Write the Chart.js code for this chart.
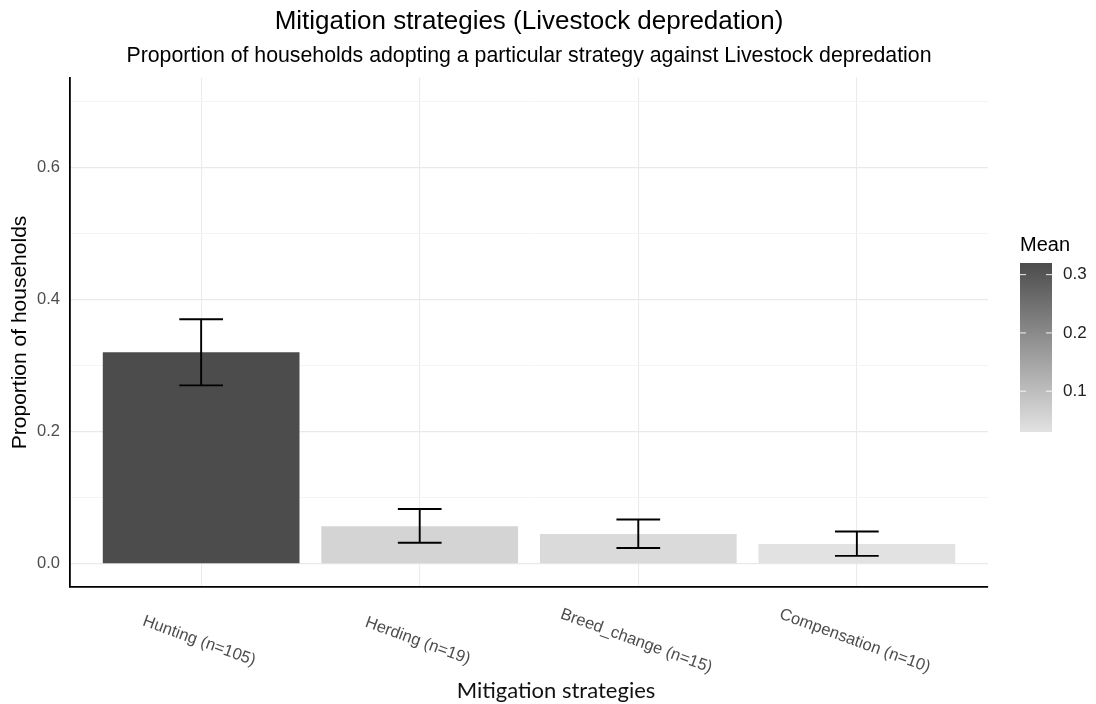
<!DOCTYPE html>
<html>
<head>
<meta charset="utf-8">
<script src="https://cdn.jsdelivr.net/npm/chart.js@4.4.1/dist/chart.umd.min.js"></script>
<style>
  html, body { margin: 0; padding: 0; background: #ffffff; }
  #wrap { width: 1096px; height: 704px; position: relative; }
</style>
</head>
<body>
<div id="wrap"><canvas id="chart"></canvas></div>
<script>
// Mitigation strategies and the share of households using each one
const strategies   = ['Hunting (n=105)', 'Herding (n=19)', 'Breed_change (n=15)', 'Compensation (n=10)'];
const meanValues   = [0.32, 0.057, 0.045, 0.030];
const lowerValues  = [0.27, 0.032, 0.024, 0.012];
const upperValues  = [0.37, 0.083, 0.067, 0.049];

// Axis ticks and legend ticks
const yMajorTicks  = [0, 0.2, 0.4, 0.6];
const yMinorTicks  = [0.1, 0.3, 0.5, 0.7];
const legendTicks  = [0.1, 0.2, 0.3];

const SANS = '"Liberation Sans", Arial, sans-serif';
const lowShade  = [226, 226, 226];
const highShade = [76, 76, 76];
const meanLo = Math.min(...meanValues);
const meanHi = Math.max(...meanValues);

function shade(v) {
  const t = (v - meanLo) / (meanHi - meanLo);
  const c = lowShade.map((l, k) => Math.round(l + (highShade[k] - l) * t));
  return `rgb(${c[0]},${c[1]},${c[2]})`;
}

const overlay = {
  id: 'overlay',
  afterDatasetsDraw(chart) {
    const { ctx, scales: { x, y } } = chart;
    // error bars (width 0.2 of a category)
    ctx.save();
    ctx.strokeStyle = '#000000';
    ctx.lineWidth = 1.9;
    strategies.forEach((_, i) => {
      const cx = x.getPixelForValue(i + 1);
      const l = x.getPixelForValue(i + 1 - 0.1);
      const r = x.getPixelForValue(i + 1 + 0.1);
      const yt = y.getPixelForValue(upperValues[i]);
      const yb = y.getPixelForValue(lowerValues[i]);
      ctx.beginPath();
      ctx.moveTo(l, yt); ctx.lineTo(r, yt);
      ctx.moveTo(cx, yt); ctx.lineTo(cx, yb);
      ctx.moveTo(l, yb); ctx.lineTo(r, yb);
      ctx.stroke();
    });
    ctx.restore();
  },
  afterDraw(chart) {
    const { ctx, scales: { x } } = chart;
    // slanted category labels
    ctx.save();
    ctx.fillStyle = '#4d4d4d';
    ctx.font = `16.5px ${SANS}`;
    ctx.textAlign = 'center';
    ctx.textBaseline = 'middle';
    strategies.forEach((label, i) => {
      ctx.save();
      ctx.translate(x.getPixelForValue(i + 1) - 2, 641);
      ctx.rotate(20 * Math.PI / 180);
      ctx.fillText(label, 0, 0);
      ctx.restore();
    });
    ctx.restore();

    // x axis title
    ctx.save();
    ctx.fillStyle = '#111111';
    ctx.font = '22px Lato, "Open Sans", sans-serif';
    ctx.textAlign = 'center';
    ctx.textBaseline = 'alphabetic';
    ctx.fillText('Mitigation strategies', 556, 698);
    ctx.restore();

    // colour bar legend
    const barL = 1020, barR = 1052, barT = 263, barB = 432;
    ctx.save();
    ctx.fillStyle = '#000000';
    ctx.font = `20px ${SANS}`;
    ctx.textAlign = 'left';
    ctx.textBaseline = 'alphabetic';
    ctx.fillText('Mean', barL, 251);
    const grad = ctx.createLinearGradient(0, barT, 0, barB);
    grad.addColorStop(0, shade(meanHi));
    grad.addColorStop(1, shade(meanLo));
    ctx.fillStyle = grad;
    ctx.fillRect(barL, barT, barR - barL, barB - barT);
    ctx.font = `17px ${SANS}`;
    ctx.textBaseline = 'middle';
    legendTicks.forEach(v => {
      const ty = barT + (meanHi - v) / (meanHi - meanLo) * (barB - barT);
      ctx.strokeStyle = 'rgba(255,255,255,0.9)';
      ctx.lineWidth = 1;
      ctx.beginPath();
      ctx.moveTo(barL, ty); ctx.lineTo(barL + 6, ty);
      ctx.moveTo(barR - 6, ty); ctx.lineTo(barR, ty);
      ctx.stroke();
      ctx.fillStyle = '#222222';
      ctx.fillText(v.toFixed(1), 1063, ty);
    });
    ctx.restore();
  }
};

new Chart(document.getElementById('chart'), {
  type: 'bar',
  data: {
    datasets: [{
      data: meanValues.map((v, i) => ({ x: i + 1, y: v })),
      backgroundColor: meanValues.map(shade),
      borderWidth: 0,
      barPercentage: 1.0,
      categoryPercentage: 0.9
    }]
  },
  options: {
    responsive: true,
    maintainAspectRatio: false,
    animation: false,
    devicePixelRatio: 1,
    layout: { padding: { left: 0, right: 108, top: 0, bottom: 0 } },
    plugins: {
      legend: { display: false },
      tooltip: { enabled: false },
      title: {
        display: true,
        text: 'Mitigation strategies (Livestock depredation)',
        fullSize: false,
        color: '#000000',
        font: { family: SANS, size: 26, weight: 'normal', lineHeight: 1.2 },
        padding: { top: 6.5, bottom: 0 }
      },
      subtitle: {
        display: true,
        text: 'Proportion of households adopting a particular strategy against Livestock depredation',
        fullSize: false,
        color: '#000000',
        font: { family: SANS, size: 21.3, weight: 'normal', lineHeight: 1.2 },
        padding: { top: 5.5, bottom: 9.1 }
      }
    },
    scales: {
      x: {
        type: 'linear',
        min: 0.4,
        max: 4.6,
        offset: false,
        afterBuildTicks: s => { s.ticks = strategies.map((_, i) => ({ value: i + 1 })); },
        afterFit: s => { s.height = 117; },
        ticks: { display: false },
        grid: { offset: false, drawTicks: false, color: '#ebebeb', lineWidth: 1.1 },
        border: { display: true, color: '#000000', width: 1.8 }
      },
      y: {
        min: -0.035,
        max: 0.735,
        afterBuildTicks: s => {
          s.ticks = [...yMajorTicks, ...yMinorTicks].sort((a, b) => a - b).map(v => ({ value: v }));
        },
        afterFit: s => { s.width = 70; },
        ticks: {
          padding: 10,
          color: '#4d4d4d',
          font: { family: SANS, size: 16.5 },
          callback: v => yMajorTicks.some(t => Math.abs(t - v) < 1e-9) ? v.toFixed(1) : ''
        },
        grid: {
          drawTicks: false,
          color: c => yMajorTicks.some(t => Math.abs(t - c.tick.value) < 1e-9) ? '#e9e9e9' : '#f3f3f3',
          lineWidth: c => yMajorTicks.some(t => Math.abs(t - c.tick.value) < 1e-9) ? 1.2 : 0.9
        },
        border: { display: true, color: '#000000', width: 1.8 },
        title: {
          display: true,
          text: 'Proportion of households',
          color: '#000000',
          font: { family: SANS, size: 21, lineHeight: 1.2 },
          padding: { top: 7.5, bottom: 0 }
        }
      }
    }
  },
  plugins: [overlay]
});
</script>
</body>
</html>
